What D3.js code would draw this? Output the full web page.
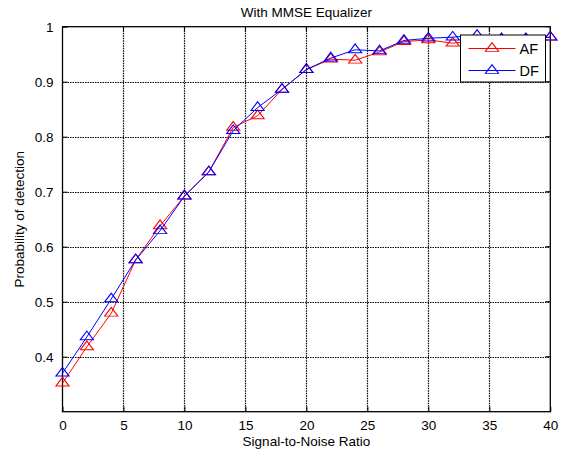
<!DOCTYPE html>
<html>
<head>
<meta charset="utf-8">
<script src="https://cdn.jsdelivr.net/npm/d3@7"></script>
<style>
  body { margin: 0; background: #fff; }
  text { font-family: "Liberation Sans", Arial, sans-serif; }
</style>
</head>
<body>
<script>
const width = 563;
const height = 454;
const margin = {top: 26.7, right: 12.7, bottom: 42.3, left: 62.5};

// SNR values (x axis)
const snr = [0, 2, 4, 6, 8, 10, 12, 14, 16, 18, 20, 22, 24, 26, 28, 30, 32, 34, 36, 38, 40];
// probability of detection
const afValues = [0.352, 0.418, 0.479, 0.576, 0.638, 0.692, 0.736, 0.817, 0.838, 0.886, 0.922, 0.941, 0.939, 0.954, 0.973, 0.976, 0.970, 0.975, 0.975, 0.976, 0.981];
const dfValues = [0.370, 0.436, 0.505, 0.576, 0.629, 0.692, 0.736, 0.811, 0.853, 0.886, 0.922, 0.943, 0.958, 0.956, 0.975, 0.979, 0.981, 0.984, 0.978, 0.978, 0.981];
const xTicks = [0, 5, 10, 15, 20, 25, 30, 35, 40];
const yTicks = [0.4, 0.5, 0.6, 0.7, 0.8, 0.9, 1];
const seriesNames = ['AF', 'DF'];
const seriesColors = ['#ff0000', '#0000ff'];

const fontSize = 13.5;

const svg = d3.create('svg')
  .attr('width', width)
  .attr('height', height)
  .style('background-color', '#fff');
document.body.appendChild(svg.node());

const x = d3.scaleLinear().domain([0, 40]).range([margin.left, width - margin.right]);
const y = d3.scaleLinear().domain([0.3, 1]).range([height - margin.bottom, margin.top]);

// dotted grid
svg.append('g')
  .selectAll('line')
  .data(xTicks.slice(1, -1))
  .enter().append('line')
  .attr('x1', d => Math.round(x(d)) + 0.5).attr('x2', d => Math.round(x(d)) + 0.5)
  .attr('y1', y(0.3)).attr('y2', y(1))
  .attr('stroke', '#000').attr('stroke-width', 1.2)
  .attr('stroke-dasharray', '1.5,1');
svg.append('g')
  .selectAll('line')
  .data(yTicks.slice(0, -1))
  .enter().append('line')
  .attr('x1', x(0)).attr('x2', x(40))
  .attr('y1', d => Math.round(y(d)) + 0.5).attr('y2', d => Math.round(y(d)) + 0.5)
  .attr('stroke', '#000').attr('stroke-width', 1.2)
  .attr('stroke-dasharray', '1.5,1');

// axes, ticks inward
const xAxis = svg.append('g')
  .attr('transform', `translate(0,${y(0.3)})`)
  .call(d3.axisBottom(x).tickValues(xTicks).tickSizeInner(-5).tickSizeOuter(0).tickPadding(9));
const yAxis = svg.append('g')
  .attr('transform', `translate(${x(0)},0)`)
  .call(d3.axisLeft(y).tickValues(yTicks).tickFormat(d => d === 1 ? '1' : d3.format('.1f')(d)).tickSizeInner(-5).tickSizeOuter(0).tickPadding(9));
[xAxis, yAxis].forEach(a => {
  a.selectAll('text').attr('font-size', fontSize).attr('fill', '#000').style('font-family', '"Liberation Sans", Arial, sans-serif');
  a.select('.domain').remove();
});
// top/right ticks
svg.append('g').selectAll('line').data(xTicks).enter().append('line')
  .attr('x1', d => x(d)).attr('x2', d => x(d)).attr('y1', y(1)).attr('y2', y(1) + 5).attr('stroke', '#000');
svg.append('g').selectAll('line').data(yTicks).enter().append('line')
  .attr('x1', x(40)).attr('x2', x(40) - 5).attr('y1', d => y(d)).attr('y2', d => y(d)).attr('stroke', '#000');

// frame
svg.append('rect')
  .attr('x', x(0)).attr('y', y(1))
  .attr('width', x(40) - x(0)).attr('height', y(0.3) - y(1))
  .attr('fill', 'none').attr('stroke', '#000').attr('stroke-width', 1.3);

// series
const tri = d3.symbol().type(d3.symbolTriangle).size(48);
const line = d3.line().x((d, i) => x(snr[i])).y(d => y(d));
[afValues, dfValues].forEach((vals, k) => {
  svg.append('path')
    .datum(vals)
    .attr('d', line)
    .attr('fill', 'none')
    .attr('stroke', seriesColors[k])
    .attr('stroke-width', 1);
  svg.append('g').selectAll('path')
    .data(vals)
    .enter().append('path')
    .attr('d', tri)
    .attr('transform', (d, i) => `translate(${x(snr[i])},${y(d)}) scale(1.25,0.95)`)
    .attr('fill', 'none')
    .attr('stroke', seriesColors[k])
    .attr('stroke-width', 1);
});

// legend
const legend = svg.append('g').attr('transform', 'translate(460.5,35)');
legend.append('rect')
  .attr('width', 85).attr('height', 47)
  .attr('fill', '#fff').attr('stroke', '#000').attr('stroke-width', 1);
seriesNames.forEach((name, i) => {
  const ly = 13.5 + i * 22;
  legend.append('line')
    .attr('x1', 8).attr('x2', 55).attr('y1', ly).attr('y2', ly)
    .attr('stroke', seriesColors[i]).attr('stroke-width', 1);
  legend.append('path')
    .attr('d', tri)
    .attr('transform', `translate(31.5,${ly}) scale(1.25,0.95)`)
    .attr('fill', 'none').attr('stroke', seriesColors[i]);
  legend.append('text')
    .attr('x', 59).attr('y', ly).attr('dy', '0.36em')
    .attr('font-size', 14.5).text(name);
});

// title and labels
svg.append('text')
  .attr('x', (x(0) + x(40)) / 2).attr('y', 17)
  .attr('text-anchor', 'middle').attr('font-size', fontSize)
  .text('With MMSE Equalizer');
svg.append('text')
  .attr('x', (x(0) + x(40)) / 2).attr('y', 446)
  .attr('text-anchor', 'middle').attr('font-size', fontSize)
  .text('Signal-to-Noise Ratio');
svg.append('text')
  .attr('transform', `translate(24,${(y(0.3) + y(1)) / 2}) rotate(-90)`)
  .attr('text-anchor', 'middle').attr('font-size', fontSize)
  .text('Probability of detection');
</script>
</body>
</html>
